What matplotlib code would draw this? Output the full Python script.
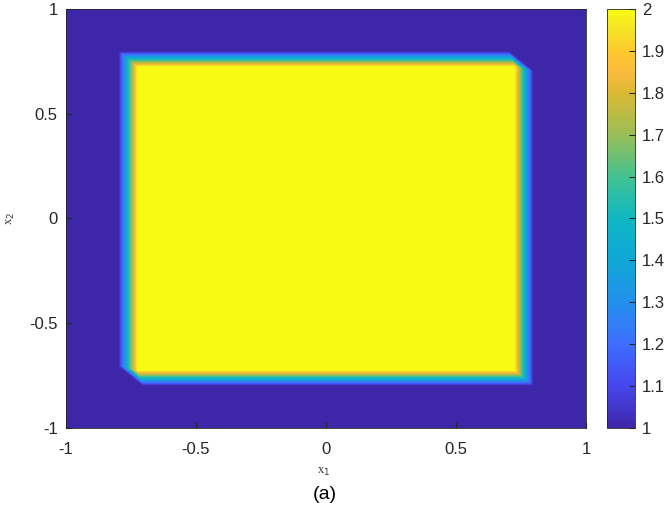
import numpy as np
import matplotlib.pyplot as plt
from matplotlib.colors import LinearSegmentedColormap

# box of value 2, and the band where it falls off to 1
half = 0.727
band = 0.073
diag_ratio = 0.7     # clips the band corners along x + y
z_low, z_high = 1.0, 2.0
n_grid = 500
n_steps = 80

cbar_ticks = [1, 1.1, 1.2, 1.3, 1.4, 1.5, 1.6, 1.7, 1.8, 1.9, 2]
axis_ticks = [-1, -0.5, 0, 0.5, 1]

# approximate MATLAB parula
parula_pts = [
    (0.00, (0.2422, 0.1504, 0.6603)),
    (0.10, (0.2783, 0.2738, 0.9324)),
    (0.20, (0.2440, 0.4350, 0.9990)),
    (0.30, (0.1380, 0.5630, 0.9280)),
    (0.40, (0.0590, 0.6570, 0.8380)),
    (0.50, (0.0600, 0.7200, 0.7700)),
    (0.60, (0.2600, 0.7600, 0.5700)),
    (0.70, (0.6000, 0.7480, 0.3400)),
    (0.80, (0.8600, 0.7250, 0.2000)),
    (0.85, (0.9800, 0.7300, 0.2400)),
    (0.90, (0.9940, 0.7900, 0.1800)),
    (0.95, (0.9600, 0.8850, 0.1500)),
    (1.00, (0.9769, 0.9839, 0.0805)),
]
parula = LinearSegmentedColormap.from_list("parula", parula_pts)

x = np.linspace(-1, 1, n_grid)
y = np.linspace(-1, 1, n_grid)
X, Y = np.meshgrid(x, y)

# distance to the box in a hexagonal norm max(|u|, |v|, |u+v|/k)
dist = np.full(X.shape, np.inf)
for d in np.linspace(0, band, n_steps)[::-1]:
    ulo = np.maximum(X - half, -d)
    uhi = np.minimum(X + half, d)
    vlo = np.maximum(Y - half, -d)
    vhi = np.minimum(Y + half, d)
    ok = (ulo <= uhi) & (vlo <= vhi)
    ok &= (ulo + vlo <= diag_ratio * d) & (uhi + vhi >= -diag_ratio * d)
    dist[ok] = d
Z = z_low + (z_high - z_low) * np.clip(1 - dist / band, 0, 1)

plt.rcParams['font.family'] = ['Liberation Sans', 'DejaVu Sans']

fig = plt.figure(figsize=(6.68, 5.08), dpi=100)
ax = fig.add_axes([0.0988, 0.1575, 0.7784, 0.8248])
cax = fig.add_axes([0.9087, 0.1575, 0.042, 0.8248])

im = ax.imshow(Z, extent=[-1, 1, -1, 1], origin="lower", aspect="auto",
               cmap=parula, vmin=z_low, vmax=z_high, interpolation="bilinear")
ax.set_xlim(-1, 1)
ax.set_ylim(-1, 1)
ax.set_xticks(axis_ticks)
ax.set_yticks(axis_ticks)
ax.set_xticklabels(["-1", "-0.5", "0", "0.5", "1"])
ax.set_yticklabels(["-1", "-0.5", "0", "0.5", "1"])
ax.tick_params(direction="in", length=4, labelsize=12, colors="#262626")
ax.tick_params(axis="x", pad=10)
ax.tick_params(axis="y", pad=6)
for s in ax.spines.values():
    s.set_color("#262626")
    s.set_linewidth(0.6)

ax.set_xlabel("x$_1$", fontsize=9, family="Liberation Serif", color="#333333")
ax.set_ylabel("x$_2$", fontsize=9, family="Liberation Serif", color="#333333")
ax.xaxis.set_label_coords(0.495, -0.091)
ax.yaxis.set_label_coords(-0.094, 0.5)
fig.text(0.4865, 0.026, "(a)", fontsize=14, ha="center", va="center")

cb = fig.colorbar(im, cax=cax, ticks=cbar_ticks)
cb.ax.set_yticklabels([f"{v:g}" for v in cbar_ticks])
cb.ax.tick_params(direction="in", length=4, labelsize=12, colors="#262626", pad=5)
cb.outline.set_linewidth(0.6)
cb.outline.set_edgecolor("#262626")

plt.savefig("out.png", dpi=100)
